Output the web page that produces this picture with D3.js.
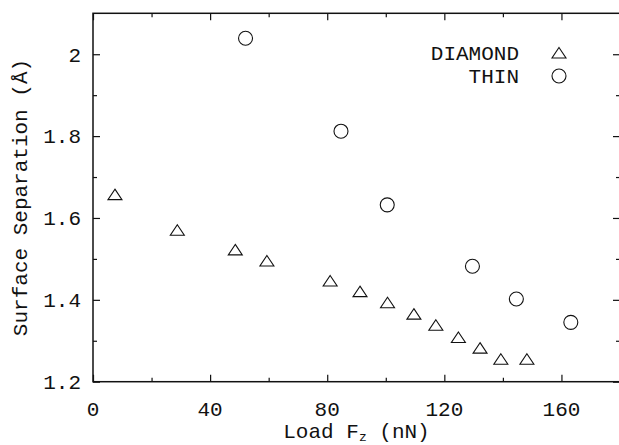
<!DOCTYPE html>
<html>
<head>
<meta charset="utf-8">
<script src="https://cdn.jsdelivr.net/npm/d3@7"></script>
<style>
  html, body { margin: 0; padding: 0; background: #fff; }
  svg { display: block; }
</style>
</head>
<body>
<svg id="chart" width="619" height="445"></svg>
<script>
// Surface separation vs. applied load for two tip types
const diamondLoad = [7.5, 28.8, 48.6, 59.4, 81.0, 91.2, 100.6, 109.6, 117.1, 124.8, 132.2, 139.3, 148.2];
const diamondSep  = [1.657, 1.570, 1.522, 1.495, 1.446, 1.420, 1.393, 1.365, 1.338, 1.308, 1.282, 1.255, 1.255];
const thinLoad = [52.1, 84.7, 100.5, 129.6, 144.6, 163.2];
const thinSep  = [2.039, 1.812, 1.632, 1.482, 1.402, 1.345];

const xMajor = [0, 40, 80, 120, 160];
const xMinor = [20, 60, 100, 140];
const yMajor = [1.2, 1.4, 1.6, 1.8, 2.0];
const yMinor = [1.3, 1.5, 1.7, 1.9];
const yTickLabels = ["1.2", "1.4", "1.6", "1.8", "2"];
const seriesNames = ["DIAMOND", "THIN"];

const FONT = "'Courier New', 'Liberation Mono', Courier, 'Nimbus Mono PS', monospace";

const svg = d3.select("#chart")
  .attr("font-family", FONT);
const plotL = 93, plotR = 620, plotT = 13.3, plotB = 381.7;

const x = d3.scaleLinear().domain([0, 180]).range([plotL, plotR]);
const y = d3.scaleLinear().domain([1.2, 2.1]).range([plotB, plotT]);

const fontSize = 21;
const ink = "#111";
const majorLen = 7, minorLen = 4;

// frame
const g = svg.append("g");
g.append("rect")
  .attr("x", plotL).attr("y", plotT)
  .attr("width", plotR - plotL).attr("height", plotB - plotT)
  .attr("fill", "none").attr("stroke", ink).attr("stroke-width", 1.5);

// inward ticks on all four sides, via d3 axes
function tickAxis(axisFn, scale, values, len, transform) {
  const a = g.append("g").attr("transform", transform)
    .call(axisFn(scale).tickValues(values).tickSizeInner(len).tickSizeOuter(0).tickFormat(""));
  a.select(".domain").remove();
  a.selectAll("line").attr("stroke", ink).attr("stroke-width", 1.2);
  return a;
}
tickAxis(d3.axisTop, x, xMajor, majorLen, `translate(0,${plotB})`);
tickAxis(d3.axisTop, x, xMinor, minorLen, `translate(0,${plotB})`);
tickAxis(d3.axisBottom, x, xMajor, majorLen, `translate(0,${plotT})`);
tickAxis(d3.axisBottom, x, xMinor, minorLen, `translate(0,${plotT})`);
tickAxis(d3.axisRight, y, yMajor, majorLen, `translate(${plotL},0)`);
tickAxis(d3.axisRight, y, yMinor, minorLen, `translate(${plotL},0)`);
tickAxis(d3.axisLeft, y, yMajor, majorLen, `translate(${plotR},0)`);
tickAxis(d3.axisLeft, y, yMinor, minorLen, `translate(${plotR},0)`);

// tick labels
g.selectAll(".xl").data(xMajor).join("text")
  .attr("x", d => x(d)).attr("y", plotB + 34)
  .attr("text-anchor", "middle").attr("font-size", fontSize).attr("fill", ink)
  .text(d => d);
g.selectAll(".yl").data(yMajor).join("text")
  .attr("x", plotL - 12).attr("y", d => y(d)).attr("dy", "0.35em")
  .attr("text-anchor", "end").attr("font-size", fontSize).attr("fill", ink)
  .text((d, i) => yTickLabels[i]);

// axis titles
const xt = g.append("text")
  .attr("x", (plotL + plotR) / 2).attr("y", plotB + 56)
  .attr("text-anchor", "middle").attr("font-size", fontSize).attr("fill", ink);
xt.append("tspan").text("Load F");
xt.append("tspan").attr("font-size", 13).attr("dy", 3).text("z");
xt.append("tspan").attr("dy", -3).text(" (nN)");

g.append("text")
  .attr("transform", `translate(27,${(plotT + plotB) / 2}) rotate(-90)`)
  .attr("text-anchor", "middle").attr("font-size", fontSize).attr("fill", ink)
  .text("Surface Separation (Å)");

// markers
const tri = "M0,-5.5L7,5L-7,5Z";
const diamond = diamondLoad.map((v, i) => ({ x: v, y: diamondSep[i] }));
const thin = thinLoad.map((v, i) => ({ x: v, y: thinSep[i] }));

g.selectAll(".tri").data(diamond).join("path")
  .attr("d", tri)
  .attr("transform", d => `translate(${x(d.x)},${y(d.y)})`)
  .attr("fill", "none").attr("stroke", ink).attr("stroke-width", 1.1);

g.selectAll(".circ").data(thin).join("circle")
  .attr("cx", d => x(d.x)).attr("cy", d => y(d.y)).attr("r", 7)
  .attr("fill", "none").attr("stroke", ink).attr("stroke-width", 1.1);

// legend
const legX = 519, legMarkX = 559;
const legY = [53, 76];
g.selectAll(".lt").data(seriesNames).join("text")
  .attr("x", legX).attr("y", (d, i) => legY[i]).attr("dy", "0.35em")
  .attr("text-anchor", "end").attr("font-size", fontSize).attr("fill", ink)
  .text(d => d);
g.append("path").attr("d", tri)
  .attr("transform", `translate(${legMarkX},${legY[0]})`)
  .attr("fill", "none").attr("stroke", ink).attr("stroke-width", 1.1);
g.append("circle").attr("cx", legMarkX).attr("cy", legY[1]).attr("r", 7)
  .attr("fill", "none").attr("stroke", ink).attr("stroke-width", 1.1);
</script>
</body>
</html>
